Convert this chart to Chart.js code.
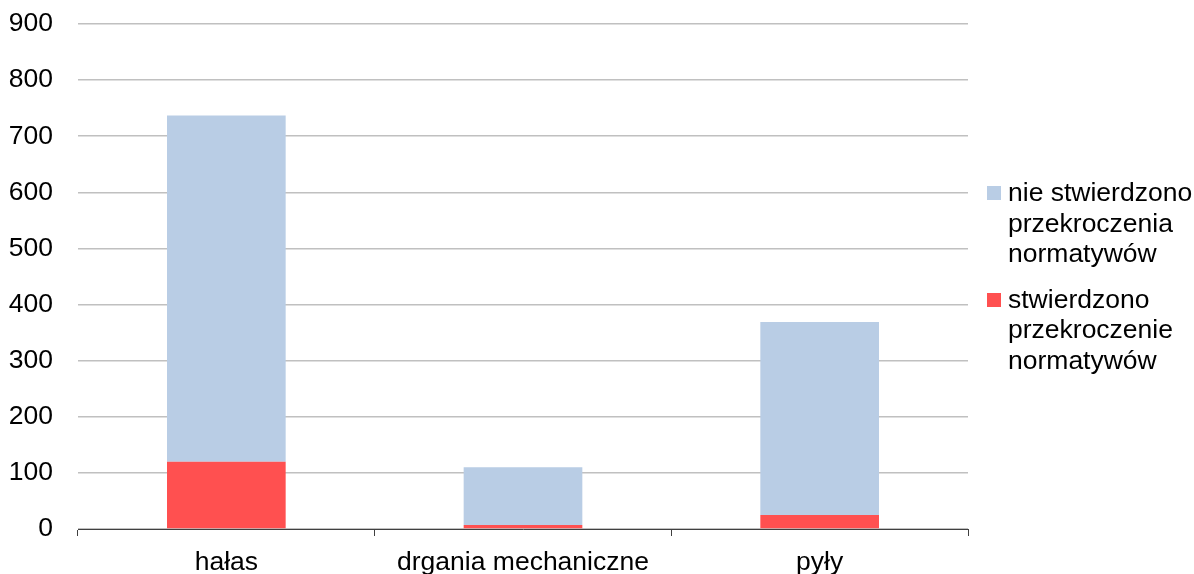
<!DOCTYPE html>
<html>
<head>
<meta charset="utf-8">
<script src="https://cdn.jsdelivr.net/npm/chart.js@4.4.1/dist/chart.umd.min.js"></script>
<style>
  html, body { margin: 0; padding: 0; background: #fff; }
  #wrap { position: relative; width: 1194px; height: 574px; }
  #legend { position: absolute; left: 987px; top: 177px; font-family: "Liberation Sans", Arial, sans-serif; font-size: 26.5px; line-height: 30.5px; color: #000; white-space: nowrap; }
  .item { position: relative; padding-left: 21px; margin-bottom: 15px; }
  .box { position: absolute; left: 0; top: 9px; width: 14px; height: 14px; }
</style>
</head>
<body>
<div id="wrap">
  <canvas id="c" width="1194" height="574"></canvas>
  <div id="legend"></div>
</div>
<script>
const categories = ["hałas", "drgania mechaniczne", "pyły"];
const exceeded = [120, 7, 25];
const notExceeded = [617, 103, 344];
const labelNotExceeded = ["nie stwierdzono", "przekroczenia", "normatywów"];
const labelExceeded = ["stwierdzono", "przekroczenie", "normatywów"];
const yTicks = [0, 100, 200, 300, 400, 500, 600, 700, 800, 900];

const font = { family: "Liberation Sans, Arial, sans-serif", size: 26.5 };

const chart = new Chart(document.getElementById("c"), {
    type: 'bar',
    data: {
        labels: categories,
        datasets: [
            { label: labelExceeded.join(" "),
              data: exceeded,
              backgroundColor: '#ff5050',
              categoryPercentage: 0.4,
              barPercentage: 1
            },
            { label: labelNotExceeded.join(" "),
              data: notExceeded,
              backgroundColor: '#b9cde5',
              categoryPercentage: 0.4,
              barPercentage: 1
            }
        ]
    },
    options: {
        responsive: false,
        animation: false,
        layout: { padding: { top: 24, right: 226, left: 0, bottom: 0 } },
        plugins: {
            legend: { display: false },
            tooltip: { enabled: false }
        },
        scales: {
            x: {
                stacked: true,
                grid: { drawOnChartArea: false, color: '#404040', tickLength: 7, offset: true },
                border: { color: '#404040', width: 1 },
                ticks: { color: '#000', font: font, padding: 11 },
                afterFit: s => { s.height = 45; s.paddingLeft = 0; s.paddingRight = 0; }
            },
            y: {
                stacked: true,
                min: 0, max: 900,
                afterBuildTicks: s => { s.ticks = yTicks.map(v => ({ value: v })); },
                grid: { color: '#c0c0c0', lineWidth: 1.5, drawTicks: false },
                border: { display: false },
                ticks: { color: '#000', font: font, padding: 25 },
                afterFit: s => { s.width = 78; s.paddingTop = 0; s.paddingBottom = 0; }
            }
        }
    }
});

// legend with wrapped labels, same order as in the reference
const legend = document.getElementById("legend");
[[labelNotExceeded, '#b9cde5'], [labelExceeded, '#ff5050']].forEach(([lines, color]) => {
    const d = document.createElement("div");
    d.className = "item";
    d.innerHTML = '<span class="box" style="background:' + color + '"></span>' + lines.join("<br>");
    legend.appendChild(d);
});
</script>
</body>
</html>
